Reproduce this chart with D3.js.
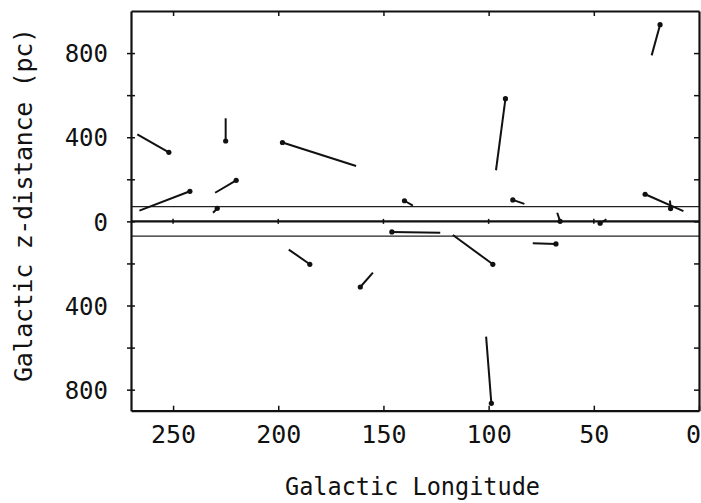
<!DOCTYPE html>
<html><head><meta charset="utf-8">
<script src="https://cdn.jsdelivr.net/npm/d3@7"></script>
<style>
html,body{margin:0;padding:0;background:#fff;overflow:hidden}
text{font-family:"DejaVu Sans Mono","Liberation Mono",monospace;fill:#111}
</style></head><body>
<svg id="c" width="701" height="503"></svg>
<script>
// Each object: dot position (dotLon, dotZ) and line end (endLon, endZ)
const objects = ["A","B","C","D","E","F","G","H","I","J","K","L","M","N","O","P","Q","R","S","T"];
const dotLon = [252, 225, 198, 242, 220, 229, 140, 146, 185, 161, 92, 88.5, 98, 66, 68, 47, 18.5, 25.6, 13.5, 98.7];
const dotZ   = [328, 382, 375, 143, 195, 62, 98, -50, -204, -312, 583, 102, -204, 0, -107, -9, 935, 129, 61, -865];
const endLon = [267, 225, 163, 266, 230, 231, 136, 123, 195, 155, 96.5, 83, 117, 67.4, 79, 44, 22.5, 7.4, 13.8, 101.2];
const endZ   = [414, 490, 263, 51, 136, 41, 75, -54, -134, -244, 243, 83, -65, 41, -104, 10, 789, 49, 99, -548];
const xTicks = [250, 200, 150, 100, 50, 0];
const yTicks = [-800, -600, -400, -200, 0, 200, 400, 600, 800];
const yLabels = [-800, -400, 0, 400, 800];
const layerLines = [70, -70];

const svg = d3.select("#c");
const L = 131, R = 699, T = 11, B = 410.7;
const x = d3.scaleLinear().domain([270, 0]).range([L, R]);
const y = d3.scaleLinear().domain([-900, 1000]).range([B, T]);

// thin layer lines
svg.selectAll("line.layer").data(layerLines).enter().append("line")
  .attr("x1", L).attr("x2", R).attr("y1", d => y(d)).attr("y2", d => y(d))
  .attr("stroke", "#222").attr("stroke-width", 1.1);
// zero line
svg.append("line").attr("x1", L).attr("x2", R).attr("y1", y(0)).attr("y2", y(0))
  .attr("stroke", "#111").attr("stroke-width", 2.4);
// ticks on zero line
svg.selectAll("line.zt").data(xTicks.filter(d => d > 0)).enter().append("line")
  .attr("x1", d => x(d)).attr("x2", d => x(d)).attr("y1", y(0) - 2.5).attr("y2", y(0) + 2.5)
  .attr("stroke", "#111").attr("stroke-width", 1.5);

// axes
const gB = svg.append("g").attr("transform", `translate(0,${B})`)
  .call(d3.axisBottom(x).tickValues(xTicks).tickSizeInner(-5).tickSizeOuter(0).tickPadding(15));
const gT = svg.append("g").attr("transform", `translate(0,${T})`)
  .call(d3.axisTop(x).tickValues(xTicks.filter(d => d > 0)).tickSizeInner(-5).tickSizeOuter(0).tickFormat(""));
const gL = svg.append("g").attr("transform", `translate(${L},0)`)
  .call(d3.axisLeft(y).tickValues(yTicks).tickSizeInner(4).tickSizeOuter(0).tickPadding(19)
    .tickFormat(d => yLabels.includes(d) ? Math.abs(d) : ""));
const gR = svg.append("g").attr("transform", `translate(${R},0)`)
  .call(d3.axisRight(y).tickValues(yTicks).tickSizeInner(-5).tickSizeOuter(0).tickFormat(""));
gL.selectAll(".tick line").attr("x2", 4).attr("x1", -4);
[gB, gT, gL, gR].forEach(g => {
  g.select(".domain").attr("stroke", "#111").attr("stroke-width", 2.2);
  g.selectAll(".tick line").attr("stroke", "#111").attr("stroke-width", 1.5);
  g.selectAll("text").attr("font-family", "DejaVu Sans Mono").attr("fill", "#111");
});
gB.selectAll("text").attr("font-size", 25).attr("dy", "0.7em")
  .attr("dx", d => d === 0 ? -6 : 0);
gL.selectAll("text").attr("font-size", 24).attr("dy", "0.36em");

// segments
const data = objects.map((id, i) => ({id, l1: dotLon[i], z1: dotZ[i], l2: endLon[i], z2: endZ[i]}));
svg.selectAll("line.seg").data(data).enter().append("line")
  .attr("x1", d => x(d.l1)).attr("y1", d => y(d.z1))
  .attr("x2", d => x(d.l2)).attr("y2", d => y(d.z2))
  .attr("stroke", "#111").attr("stroke-width", 2);
svg.selectAll("circle.dot").data(data).enter().append("circle")
  .attr("cx", d => x(d.l1)).attr("cy", d => y(d.z1)).attr("r", 2.6).attr("fill", "#111");

// titles
svg.append("text").attr("x", 412.5).attr("y", 495).attr("text-anchor", "middle")
  .attr("font-size", 24).attr("textLength", 255).attr("lengthAdjust", "spacingAndGlyphs")
  .text("Galactic Longitude");
svg.append("text").attr("transform", "translate(32,205) rotate(-90)").attr("text-anchor", "middle")
  .attr("font-size", 25).attr("textLength", 354).attr("lengthAdjust", "spacing")
  .text("Galactic z-distance (pc)");
</script>
</body></html>
